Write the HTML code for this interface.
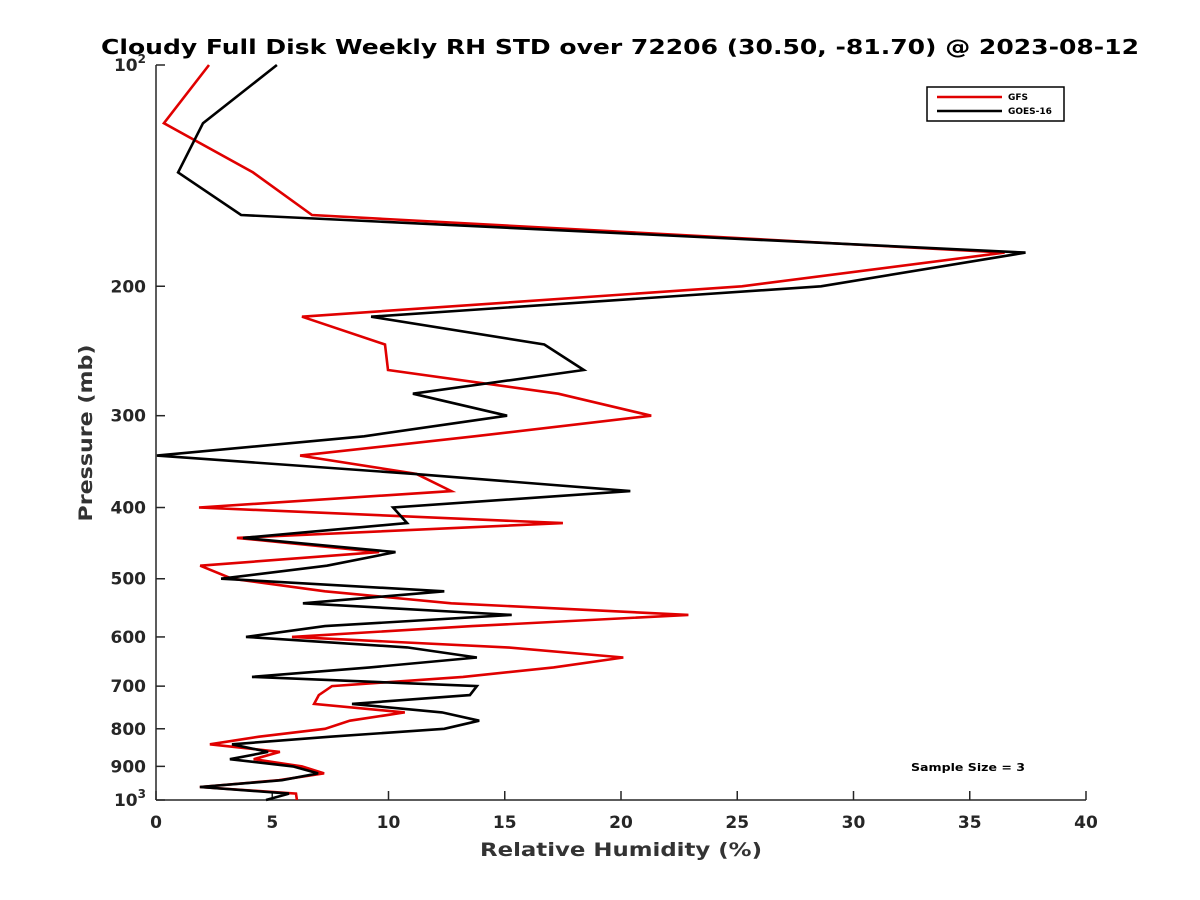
<!DOCTYPE html>
<html><head><meta charset="utf-8">
<style>
html,body{margin:0;padding:0;background:#fff;}
svg{display:block;font-family:"DejaVu Sans","Liberation Sans",sans-serif;}
</style></head>
<body>
<svg id="chart" width="1200" height="900" viewBox="0 0 1200 900" xmlns="http://www.w3.org/2000/svg">
<rect width="1200" height="900" fill="#fff"/>
<text x="620" y="54" text-anchor="middle" font-size="20" font-weight="bold" fill="#000" textLength="1038" lengthAdjust="spacingAndGlyphs">Cloudy Full Disk Weekly RH STD over 72206 (30.50, -81.70) @ 2023-08-12</text>
<g id="axes"></g>
<g id="series"></g>
<g>
<rect x="927" y="87" width="137" height="34" fill="#fff" stroke="#000" stroke-width="1.5"/>
<line x1="937" y1="97" x2="1002" y2="97" stroke="#e00000" stroke-width="2.5"/>
<text x="1008" y="100" font-size="9" font-weight="bold">GFS</text>
<line x1="937" y1="111" x2="1002" y2="111" stroke="#000" stroke-width="2.5"/>
<text x="1008" y="114" font-size="9" font-weight="bold">GOES-16</text>
</g>
<text x="911" y="771" font-size="11" font-weight="bold" textLength="114" lengthAdjust="spacingAndGlyphs">Sample Size = 3</text>
<text x="621" y="856" text-anchor="middle" font-size="19" font-weight="bold" fill="#333" textLength="282" lengthAdjust="spacingAndGlyphs">Relative Humidity (%)</text>
<text x="0" y="0" transform="translate(92,433) rotate(-90)" text-anchor="middle" font-size="19" font-weight="bold" fill="#333" textLength="177" lengthAdjust="spacingAndGlyphs">Pressure (mb)</text>
</svg>
<script>
const pressures = [100,120,140,160,180,200,220,240,260,280,300,320,340,360,380,400,420,440,460,480,500,520,540,560,580,600,620,640,660,680,700,720,740,760,780,800,820,840,860,880,900,920,940,960,980,1000];
const gfsValues = [2.28,0.34,4.17,6.71,36.5,25.2,6.28,9.85,9.98,17.3,21.3,13.7,6.2,11.2,12.7,1.85,17.5,3.48,9.6,1.9,3.27,7.27,12.7,22.9,13.6,5.85,15.1,20.1,17.1,13.2,7.57,7.0,6.8,10.7,8.34,7.27,4.43,2.32,5.33,4.2,6.28,7.23,5.29,1.89,6.02,6.06];
const goesValues = [5.2,2.02,0.95,3.66,37.4,28.6,9.25,16.7,18.4,11.05,15.1,8.95,0.04,11.1,20.4,10.2,10.8,3.74,10.3,7.35,2.8,12.4,6.32,15.3,7.27,3.87,10.8,13.8,9.2,4.13,13.8,13.5,8.43,12.3,13.9,12.4,7.5,3.27,4.82,3.18,5.89,6.97,5.42,1.89,5.72,4.73];
const xTicks = [0,5,10,15,20,25,30,35,40];
const yTicks = [100,200,300,400,500,600,700,800,900,1000];
const yTickLabels = ["10|2","200","300","400","500","600","700","800","900","10|3"];

const X0=156, X1=1086, Y0=65, Y1=800;
const xMin=0, xMax=40;
function xScale(v){return X0+(v-xMin)/(xMax-xMin)*(X1-X0);}
function yScale(p){return Y0+(Math.log10(p)-2)/(3-2)*(Y1-Y0);}
const NS="http://www.w3.org/2000/svg";
const axes=document.getElementById('axes');
function mk(tag,attrs,parent){const e=document.createElementNS(NS,tag);for(const k in attrs)e.setAttribute(k,attrs[k]);parent.appendChild(e);return e;}

const xAxis=mk('line',{x1:X0,y1:Y1,x2:X1,y2:Y1,stroke:'#262626','stroke-width':1.5},axes);


const yAxis=mk('line',{x1:X0,y1:Y0,x2:X0,y2:Y1,stroke:'#262626','stroke-width':1.5},axes);



xTicks.forEach(v=>{
  const x=xScale(v);
  const t=mk('line',{x1:x,y1:Y1,x2:x,y2:Y1-9,stroke:'#262626','stroke-width':1.5},axes);
  
  
  const l=mk('text',{x:x,y:Y1+28,'text-anchor':'middle','font-size':17,'font-weight':'bold',fill:'#262626'},axes);
  l.textContent=v;
  
  
});
yTicks.forEach((p,i)=>{
  const y=yScale(p);
  const t=mk('line',{x1:X0,y1:y,x2:X0+9,y2:y,stroke:'#262626','stroke-width':1.5},axes);
  
  
  const l=mk('text',{x:X0-10,y:y+6,'text-anchor':'end','font-size':17,'font-weight':'bold',fill:'#262626'},axes);
  const parts=yTickLabels[i].split('|');
  if(parts.length===2){
    const a=mk('tspan',{},l); a.textContent=parts[0];
    const b=mk('tspan',{dy:-8,'font-size':12},l); b.textContent=parts[1];
  } else { l.textContent=parts[0]; }
  
  
});

const series=document.getElementById('series');
function drawLine(vals,color,name){
  const pts=vals.map((v,i)=>xScale(v).toFixed(1)+','+yScale(pressures[i]).toFixed(1)).join(' ');
  const pl=mk('polyline',{points:pts,fill:'none',stroke:color,'stroke-width':2.6,'stroke-linejoin':'miter'},series);
  
  
}
drawLine(gfsValues,'#e00000','gfs-line');
drawLine(goesValues,'#000','goes16-line');
</script>
</body></html>
